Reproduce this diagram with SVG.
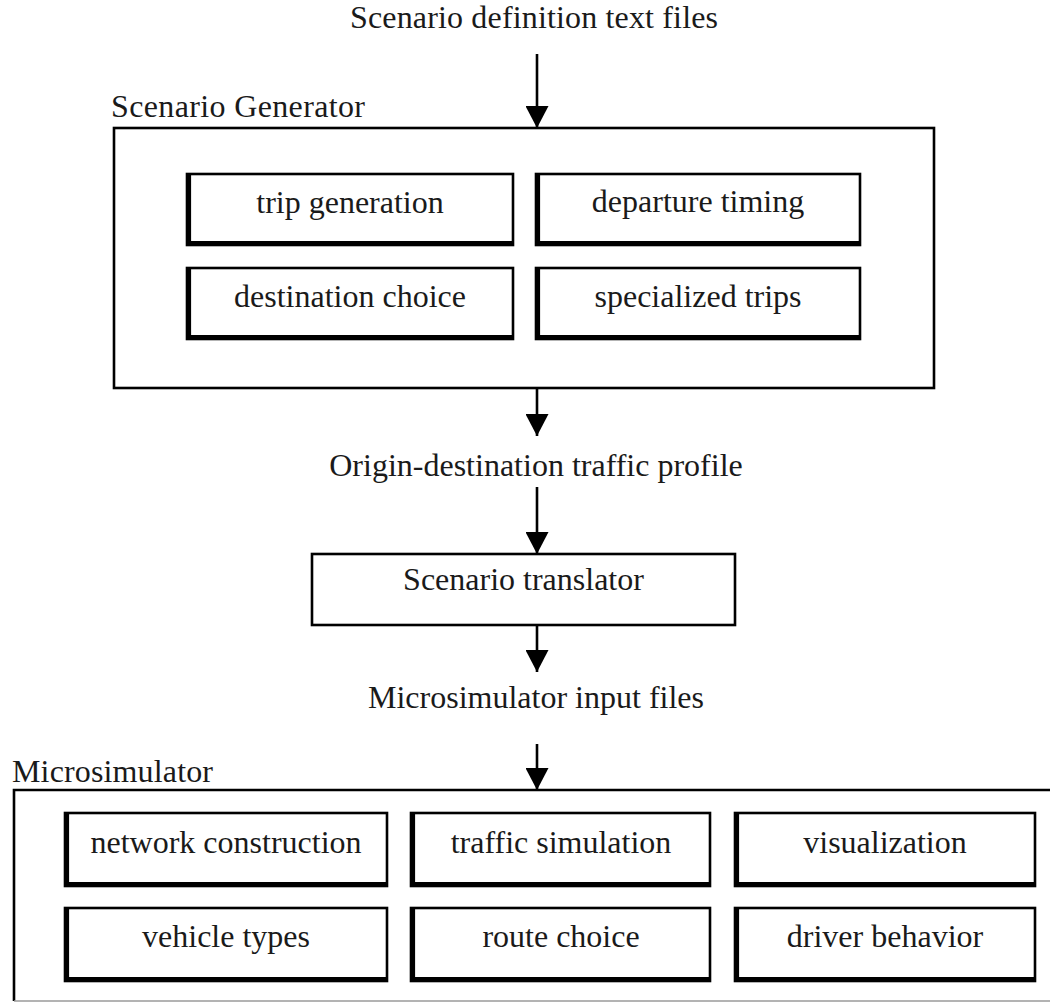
<svg xmlns="http://www.w3.org/2000/svg" width="1050" height="1003" viewBox="0 0 1050 1003">
<style>
text{font-family:"Liberation Serif","Times New Roman",serif;font-size:32px;fill:#1a1a1a}
.c{text-anchor:middle}
.box{fill:#fff;stroke:#000;stroke-width:2.6}
.sh{fill:none;stroke:#000;stroke-width:4.2}
.outer{fill:none;stroke:#000;stroke-width:2.6}
.conn{stroke:#000;stroke-width:2.6;fill:none}
</style>
<defs>
<marker id="ah" viewBox="0 0 22 23" refX="22" refY="11.5" markerWidth="22" markerHeight="23" markerUnits="userSpaceOnUse" orient="auto">
<path d="M0,0 L22,11.5 L0,23 z" fill="#000"/>
</marker>
</defs>
<rect width="1050" height="1003" fill="#fff"/>

<g id="title"><text class="c" x="534" y="28" textLength="368">Scenario definition text files</text></g>

<g id="scenario-generator">
<rect class="outer" x="114" y="128" width="820" height="260"/>
<text x="111" y="117" textLength="254">Scenario Generator</text>
</g>
<g id="trip-generation">
<rect class="box" x="187" y="174" width="326" height="71"/>
<path class="sh" d="M189,174 V243 H513"/>
<text class="c" x="350" y="213">trip generation</text>
</g>
<g id="departure-timing">
<rect class="box" x="536" y="174" width="324" height="71"/>
<path class="sh" d="M538,174 V243 H860"/>
<text class="c" x="698" y="212">departure timing</text>
</g>
<g id="destination-choice">
<rect class="box" x="187" y="268" width="326" height="71"/>
<path class="sh" d="M189,268 V337 H513"/>
<text class="c" x="350" y="307">destination choice</text>
</g>
<g id="specialized-trips">
<rect class="box" x="536" y="268" width="324" height="71"/>
<path class="sh" d="M538,268 V337 H860"/>
<text class="c" x="698" y="307">specialized trips</text>
</g>

<g id="od-profile"><text class="c" x="536" y="476">Origin-destination traffic profile</text></g>

<g id="scenario-translator">
<rect class="box" x="312" y="554" width="423" height="71"/>
<text class="c" x="523.5" y="590">Scenario translator</text>
</g>

<g id="input-files"><text class="c" x="536" y="708">Microsimulator input files</text></g>

<g id="microsimulator">
<path class="outer" d="M1060,790 H14 V1001"/>
<line x1="14" y1="1001" x2="1050" y2="1001" stroke="#9a9a9a" stroke-width="1.5"/>
<text x="12" y="782" textLength="201">Microsimulator</text>
</g>
<g id="network-construction">
<rect class="box" x="65" y="813" width="322" height="73"/>
<path class="sh" d="M67,813 V884 H387"/>
<text class="c" x="226" y="853">network construction</text>
</g>
<g id="traffic-simulation">
<rect class="box" x="411" y="813" width="299" height="73"/>
<path class="sh" d="M413,813 V884 H710"/>
<text class="c" x="561" y="853">traffic simulation</text>
</g>
<g id="visualization">
<rect class="box" x="735" y="813" width="300" height="73"/>
<path class="sh" d="M737,813 V884 H1035"/>
<text class="c" x="885" y="853">visualization</text>
</g>
<g id="vehicle-types">
<rect class="box" x="65" y="908" width="322" height="73"/>
<path class="sh" d="M67,908 V979 H387"/>
<text class="c" x="226" y="947">vehicle types</text>
</g>
<g id="route-choice">
<rect class="box" x="411" y="908" width="299" height="73"/>
<path class="sh" d="M413,908 V979 H710"/>
<text class="c" x="561" y="947">route choice</text>
</g>
<g id="driver-behavior">
<rect class="box" x="735" y="908" width="300" height="73"/>
<path class="sh" d="M737,908 V979 H1035"/>
<text class="c" x="885" y="947">driver behavior</text>
</g>

<g id="connectors">
<line class="conn" x1="537" y1="54" x2="537" y2="128" marker-end="url(#ah)"/>
<line class="conn" x1="537" y1="388" x2="537" y2="436" marker-end="url(#ah)"/>
<line class="conn" x1="537" y1="487" x2="537" y2="554" marker-end="url(#ah)"/>
<line class="conn" x1="537" y1="625" x2="537" y2="672" marker-end="url(#ah)"/>
<line class="conn" x1="537" y1="744" x2="537" y2="790" marker-end="url(#ah)"/>
</g>
</svg>
